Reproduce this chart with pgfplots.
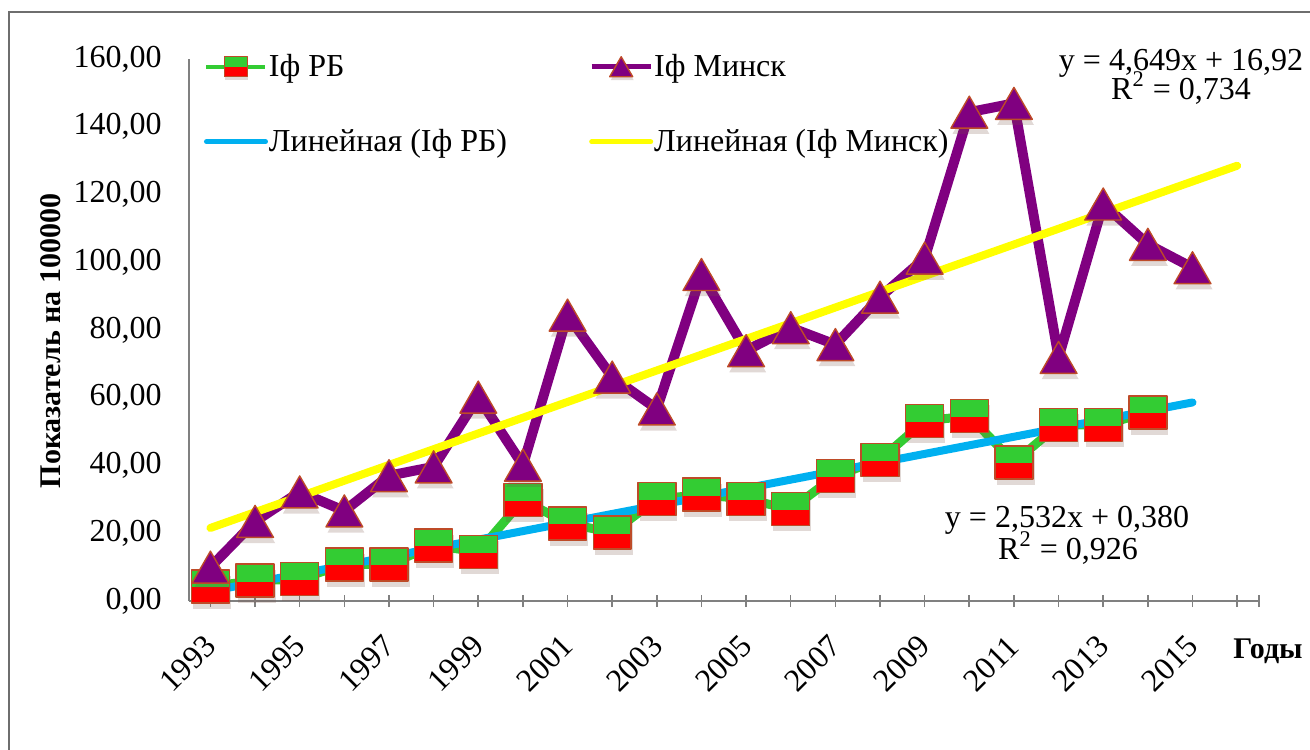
\documentclass[border=0pt]{standalone}
\usepackage{pgfplots}
\pgfplotsset{compat=1.18}
\usepackage{fontspec}
\setmainfont{Liberation Serif}
\definecolor{rbgreen}{RGB}{51,204,51}
\definecolor{rbred}{RGB}{255,0,0}
\definecolor{mkborder}{RGB}{190,75,40}
\definecolor{mnpurple}{RGB}{128,0,128}
\definecolor{trblue}{RGB}{0,176,240}
\definecolor{tryellow}{RGB}{255,255,0}
\definecolor{axgray}{RGB}{128,128,128}
\definecolor{framegray}{RGB}{110,110,110}
\definecolor{shadowc}{RGB}{120,80,70}

\pgfdeclareplotmark{rbsq}{%
  \begin{pgfscope}
  \pgfsetfillopacity{0.22}\pgfsetfillcolor{shadowc}%
  \pgfpathrectangle{\pgfqpoint{-1.05\pgfplotmarksize}{-1.35\pgfplotmarksize}}{\pgfqpoint{2.3\pgfplotmarksize}{2\pgfplotmarksize}}%
  \pgfusepath{fill}%
  \end{pgfscope}
  \pgfpathrectangle{\pgfqpoint{-1.15\pgfplotmarksize}{-\pgfplotmarksize}}{\pgfqpoint{2.3\pgfplotmarksize}{2\pgfplotmarksize}}%
  \pgfsetfillcolor{rbred}\pgfusepath{fill}%
  \pgfpathrectangle{\pgfqpoint{-1.15\pgfplotmarksize}{-0.06\pgfplotmarksize}}{\pgfqpoint{2.3\pgfplotmarksize}{1.06\pgfplotmarksize}}%
  \pgfsetfillcolor{rbgreen}\pgfusepath{fill}%
  \pgfpathrectangle{\pgfqpoint{-1.15\pgfplotmarksize}{-\pgfplotmarksize}}{\pgfqpoint{2.3\pgfplotmarksize}{2\pgfplotmarksize}}%
  \pgfsetstrokecolor{mkborder}\pgfusepath{stroke}%
}
\pgfdeclareplotmark{mntri}{%
  \begin{pgfscope}
  \pgfsetfillopacity{0.22}\pgfsetfillcolor{shadowc}%
  \pgfpathmoveto{\pgfqpoint{0.1\pgfplotmarksize}{0.65\pgfplotmarksize}}%
  \pgfpathlineto{\pgfqpoint{1.25\pgfplotmarksize}{-1.35\pgfplotmarksize}}%
  \pgfpathlineto{\pgfqpoint{-1.05\pgfplotmarksize}{-1.35\pgfplotmarksize}}%
  \pgfpathclose\pgfusepath{fill}%
  \end{pgfscope}
  \pgfpathmoveto{\pgfqpoint{0pt}{\pgfplotmarksize}}%
  \pgfpathlineto{\pgfqpoint{1.15\pgfplotmarksize}{-\pgfplotmarksize}}%
  \pgfpathlineto{\pgfqpoint{-1.15\pgfplotmarksize}{-\pgfplotmarksize}}%
  \pgfpathclose
  \pgfsetfillcolor{mnpurple}\pgfsetstrokecolor{mkborder}\pgfusepath{fill,stroke}%
}

\pgfplotstableread{
year val
1993 4.3
1994 6.0
1995 6.5
1996 10.8
1997 10.8
1998 16.4
1999 14.5
2000 29.8
2001 22.9
2002 20.2
2003 30.1
2004 31.4
2005 30.1
2006 27.1
2007 36.9
2008 41.7
2009 53.2
2010 54.6
2011 40.9
2012 52.0
2013 52.0
2014 55.7
}\rbdata
\pgfplotstableread{
year val
1993 10.0
1994 23.5
1995 32.2
1996 26.6
1997 37.0
1998 39.6
1999 60.2
2000 40.1
2001 84.4
2002 66.1
2003 56.7
2004 96.4
2005 73.9
2006 80.7
2007 75.7
2008 89.7
2009 101.2
2010 144.3
2011 146.9
2012 71.9
2013 117.2
2014 105.3
2015 98.4
}\mndata

\begin{document}
\begin{tikzpicture}[font=\fontsize{16}{19}\selectfont]
\path[use as bounding box] (0,0) rectangle (655pt,-374.5pt);
\draw[framegray, line width=1.2pt] (4.5pt,-6pt) rectangle (720pt,-430pt);
\begin{axis}[
  at={(94.5pt,-300.5pt)}, anchor=south west,
  scale only axis, width=535pt, height=271pt,
  xmin=1992.52, xmax=2016.49, ymin=0, ymax=160,
  axis x line*=bottom, axis y line*=left,
  axis line style={axgray, line width=0.75pt},
  clip=false,
  xtick={1993,...,2016},
  xticklabels={1993,,1995,,1997,,1999,,2001,,2003,,2005,,2007,,2009,,2011,,2013,,2015,},
  extra x ticks={2016.49}, extra x tick labels={},
  ytick={0,20,...,160},
  tick align=center, major tick length=6pt,
  x tick style={axgray, line width=0.75pt},
  ytick style={draw=none},
  xticklabel style={anchor=center, inner sep=0pt, xshift=-11.25pt, yshift=-28.25pt, rotate=45},
  yticklabel style={inner sep=0pt, anchor=east, xshift=-10.5pt,
    /pgf/number format/.cd, fixed, fixed zerofill, precision=2, use comma, 1000 sep={}, assume math mode=true},
  legend columns=2,
  legend style={at={(axis description cs:0.014,1.009)}, anchor=north west,
    draw=none, fill=none, inner sep=0pt, outer sep=0pt,
    nodes={inner sep=0pt, anchor=west}, row sep=24.5pt,
    /tikz/every odd column/.append style={column sep=0.5pt},
    /tikz/every even column/.append style={column sep=41pt}},
]
\addplot[rbgreen, line width=4.5pt, line join=round, mark=rbsq, mark size=8.25pt,
  mark options={line width=0.7pt},
  legend image code/.code={\draw[mark repeat=2, mark phase=2, line width=2pt, mark size=5pt] plot coordinates {(0pt,0pt) (14.75pt,0pt) (29.5pt,0pt)};}]
  table[x=year, y=val] {\rbdata};
\addlegendentry{Iф РБ}
\addplot[mnpurple, line width=5pt, line join=round, mark=mntri, mark size=8pt,
  mark options={line width=0.7pt},
  legend image code/.code={\draw[mark repeat=2, mark phase=2, line width=2.5pt, mark size=5pt] plot coordinates {(0pt,0pt) (14.75pt,0pt) (29.5pt,0pt)};}]
  table[x=year, y=val] {\mndata};
\addlegendentry{Iф Минск}
\addplot[trblue, line width=4pt, line cap=round,
  legend image code/.code={\draw[line width=2.5pt] (0pt,0pt) -- (29.5pt,0pt);}]
  coordinates {(1993,2.912) (2015,58.616)};
\addlegendentry{Линейная (Iф РБ)}
\addplot[tryellow, line width=4pt, line cap=round,
  legend image code/.code={\draw[line width=2.5pt] (0pt,0pt) -- (29.5pt,0pt);}]
  coordinates {(1993,21.569) (2016,128.496)};
\addlegendentry{Линейная (Iф Минск)}
\end{axis}
\node[anchor=base] at (590.5pt,-35.25pt) {y = 4,649x + 16,92};
\node[anchor=base] at (590.5pt,-49.5pt) {R\textsuperscript{2} = 0,734};
\node[anchor=base] at (533.5pt,-263.5pt) {y = 2,532x + 0,380};
\node[anchor=base] at (534pt,-279.5pt) {R\textsuperscript{2} = 0,926};
\node[anchor=base, font=\fontsize{15}{18}\selectfont\bfseries] at (634pt,-329pt) {Годы};
\node[rotate=90, font=\fontsize{15}{18}\selectfont\bfseries] at (25.5pt,-170.5pt) {Показатель на 100000};
\end{tikzpicture}
\end{document}
